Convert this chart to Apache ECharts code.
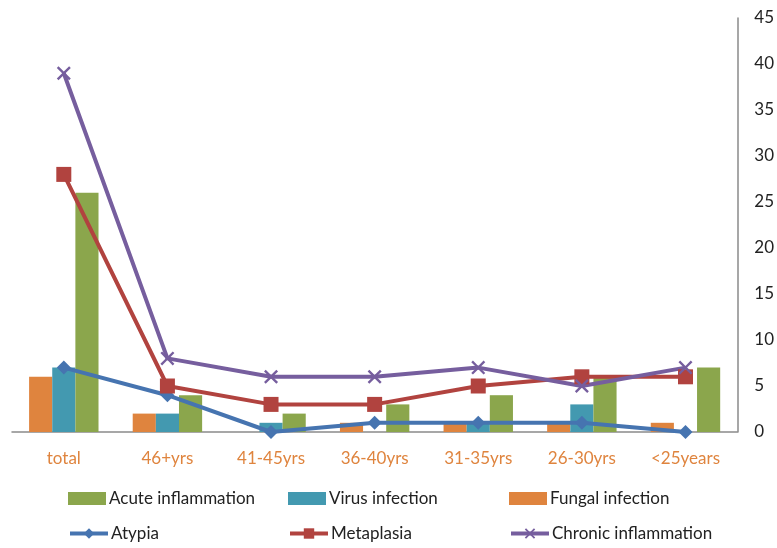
<!DOCTYPE html>
<html>
<head>
<meta charset="utf-8">
<script src="https://cdn.jsdelivr.net/npm/echarts@6/dist/echarts.min.js"></script>
<style>html,body{margin:0;padding:0;background:#fff}#c{width:777px;height:548px}</style>
</head>
<body>
<div id="c"></div>
<script>
const categories = ['total','46+yrs','41-45yrs','36-40yrs','31-35yrs','26-30yrs','<25years'];
const fungal = [6,2,0,1,1,1,1];
const virus = [7,2,1,0,1,3,0];
const acute = [26,4,2,3,4,6,7];
const atypia = [7,4,0,1,1,1,0];
const metaplasia = [28,5,3,3,5,6,6];
const chronic = [39,8,6,6,7,5,7];
const yTicks = {min:0,max:45,interval:5};

const C = {acute:'#8ba64c', virus:'#4399b0', fungal:'#df843e', atypia:'#4674b0', meta:'#b1433f', chronic:'#765e9e'};
const xSym = 'path://M0,1.2 L1.2,0 L5,3.8 L8.8,0 L10,1.2 L6.2,5 L10,8.8 L8.8,10 L5,6.2 L1.2,10 L0,8.8 L3.8,5 Z';
const font = 'Lato';
const chart = echarts.init(document.getElementById('c'));
function lg(name, left, top, icon){
  const o = {data:[name], left:left, top:top, itemGap:0, textStyle:{fontFamily:font,fontSize:17,color:'#222',padding:[0,0,0,-2]}, selectedMode:false, padding:0,
    itemWidth:38, itemHeight:13, lineStyle:{width:4}};
  if(icon){o.icon=icon;}
  return o;
}
chart.setOption({
  animation:false,
  textStyle:{fontFamily:font},
  grid:{left:12,right:39,top:18,bottom:116},
  legend:[
    lg('Acute inflammation',68,490,'rect'),
    lg('Virus infection',288,490,'rect'),
    lg('Fungal infection',509,490,'rect'),
    lg('Atypia',68,525),
    lg('Metaplasia',288,525),
    lg('Chronic inflammation',509,525)
  ],
  xAxis:{type:'category',data:categories,
    axisLine:{lineStyle:{color:'#8a8a8a',width:1.5}},axisTick:{show:false},
    axisLabel:{color:'#df843e',fontSize:17,fontFamily:font,margin:18,interval:0}},
  yAxis:{type:'value',position:'right',min:yTicks.min,max:yTicks.max,interval:yTicks.interval,
    splitLine:{show:false},axisLine:{show:true,lineStyle:{color:'#8a8a8a',width:1.5}},axisTick:{show:false},
    axisLabel:{color:'#222',fontSize:17,fontFamily:font,margin:17}},
  series:[
    {name:'Fungal infection',type:'bar',data:fungal,itemStyle:{color:C.fungal},barGap:'0%',barCategoryGap:'33%'},
    {name:'Virus infection',type:'bar',data:virus,itemStyle:{color:C.virus},barGap:'0%',barCategoryGap:'33%'},
    {name:'Acute inflammation',type:'bar',data:acute,itemStyle:{color:C.acute},barGap:'0%',barCategoryGap:'33%'},
    {name:'Atypia',type:'line',data:atypia,symbol:'diamond',symbolSize:14,lineStyle:{color:C.atypia,width:4},itemStyle:{color:C.atypia}},
    {name:'Metaplasia',type:'line',data:metaplasia,symbol:'rect',symbolSize:15,lineStyle:{color:C.meta,width:4},itemStyle:{color:C.meta}},
    {name:'Chronic inflammation',type:'line',data:chronic,symbol:xSym,symbolSize:14,lineStyle:{color:C.chronic,width:4},itemStyle:{color:C.chronic}}
  ]
});
</script>
</body>
</html>
